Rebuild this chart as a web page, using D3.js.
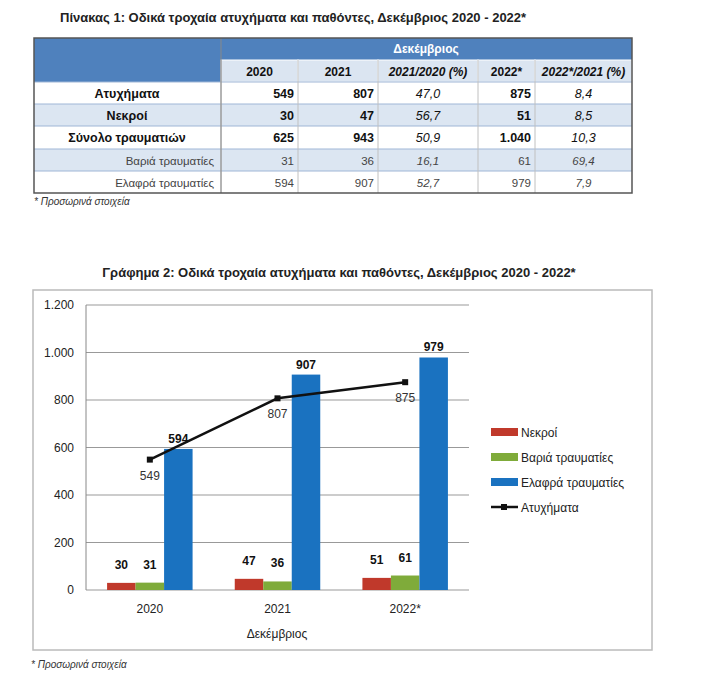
<!DOCTYPE html>
<html><head><meta charset="utf-8">
<script src="https://cdn.jsdelivr.net/npm/d3@7"></script>
<style>body{margin:0;background:#fff}svg{font-family:"Liberation Sans Narrow","Arial Narrow","Liberation Sans",sans-serif}</style>
</head><body><svg id="c" width="701" height="687"></svg>
<script>
const years = ["2020","2021","2022*"];
const nekroi = [30,47,51];
const varia = [31,36,61];
const elafra = [594,907,979];
const atyx = [549,807,875];
const yTicks = [0,200,400,600,800,1000,1200];
const tableHead = ["2020","2021","2021/2020 (%)","2022*","2022*/2021 (%)"];
const tableRows = [
 ["Ατυχήματα","549","807","47,0","875","8,4"],
 ["Νεκροί","30","47","56,7","51","8,5"],
 ["Σύνολο τραυματιών","625","943","50,9","1.040","10,3"],
 ["Βαριά τραυματίες","31","36","16,1","61","69,4"],
 ["Ελαφρά τραυματίες","594","907","52,7","979","7,9"]
];
const svg = d3.select("#c");
const fmt = v => v>=1000 ? d3.format(",")(v).replace(",",".") : String(v);

// Table
svg.append("text").attr("x",60).attr("y",22).attr("font-size",13).attr("font-weight","bold").attr("fill","#222")
 .text("Πίνακας 1: Οδικά τροχαία ατυχήματα και παθόντες, Δεκέμβριος 2020 - 2022*");
const colX=[34,221,298,378,478,535,632];
const rowY=[38,60,82,104,126,149,171,193];
svg.append("rect").attr("x",34).attr("y",38).attr("width",598).attr("height",44).attr("fill","#4f81bd");
svg.append("text").attr("x",426).attr("y",53).attr("text-anchor","middle").attr("fill","#fff").attr("font-size",12).attr("font-weight","bold").text("Δεκέμβριος");
tableHead.forEach((h,i)=>{
 svg.append("rect").attr("x",colX[i+1]).attr("y",60).attr("width",colX[i+2]-colX[i+1]).attr("height",22).attr("fill","#dbe5f1").attr("stroke","#fff");
 svg.append("text").attr("x",(colX[i+1]+colX[i+2])/2).attr("y",76).attr("text-anchor","middle").attr("font-size",12).attr("font-weight","bold")
  .attr("font-style",h.includes("%")?"italic":"normal").attr("fill","#111").text(h);
});
tableRows.forEach((r,j)=>{
 const y0=rowY[j+2],y1=rowY[j+3];
 svg.append("rect").attr("x",34).attr("y",y0).attr("width",598).attr("height",y1-y0).attr("fill",j%2?"#dce6f2":"#fff");
 svg.append("line").attr("x1",34).attr("x2",632).attr("y1",y0).attr("y2",y0).attr("stroke","#9fb6d6");
 const bold=j<3;
 r.forEach((c,i)=>{
  const t=svg.append("text").attr("y",(y0+y1)/2+4.5).attr("font-size",bold?12.5:11.5).attr("fill",bold?"#111":"#444");
  if(i===0){ if(bold) t.attr("x",127).attr("text-anchor","middle").attr("font-weight","bold"); else t.attr("x",214).attr("text-anchor","end"); }
  else if(i===3||i===5){ t.attr("x",(colX[i]+colX[i+1])/2).attr("text-anchor","middle").attr("font-style","italic"); }
  else { t.attr("x",colX[i+1]-4).attr("text-anchor","end").attr("font-weight",bold?"bold":"normal"); }
  t.text(c);
 });
});
colX.slice(1,-1).forEach(x=>svg.append("line").attr("x1",x).attr("x2",x).attr("y1",60).attr("y2",193).attr("stroke","#c0c0c0"));
svg.append("line").attr("x1",221).attr("x2",221).attr("y1",38).attr("y2",193).attr("stroke","#888");
svg.append("rect").attr("x",34).attr("y",38).attr("width",598).attr("height",155).attr("fill","none").attr("stroke","#555").attr("stroke-width",1.5);
svg.append("text").attr("x",34).attr("y",205).attr("font-size",10).attr("font-style","italic").attr("fill","#333").text("* Προσωρινά στοιχεία");

// Chart
svg.append("text").attr("x",339).attr("y",277).attr("text-anchor","middle").attr("font-size",13).attr("font-weight","bold").attr("fill","#222")
 .text("Γράφημα 2: Οδικά τροχαία ατυχήματα και παθόντες, Δεκέμβριος 2020 - 2022*");
svg.append("rect").attr("x",33).attr("y",290).attr("width",619).attr("height",360).attr("fill","#fff").attr("stroke","#bbb").attr("stroke-width",1.5);
const L=86,R=469;
const x = d3.scaleBand().domain(years).range([L,R]);
const y = d3.scaleLinear().domain([0,1200]).range([590,305]);
const g = svg.append("g");
g.selectAll(".gl").data(yTicks).join("line").attr("x1",L).attr("x2",R).attr("y1",d=>y(d)).attr("y2",d=>y(d)).attr("stroke","#999");
g.append("line").attr("x1",L).attr("x2",L).attr("y1",305).attr("y2",590).attr("stroke","#888");
g.selectAll(".yt").data(yTicks).join("text").attr("x",74).attr("y",d=>y(d)+4).attr("text-anchor","end").attr("font-size",12).attr("fill","#222").text(fmt);
g.selectAll(".xt").data(years).join("text").attr("x",d=>x(d)+x.bandwidth()/2).attr("y",613).attr("text-anchor","middle").attr("font-size",12).attr("fill","#222").text(d=>d);
svg.append("text").attr("x",277).attr("y",638).attr("text-anchor","middle").attr("font-size",12).attr("fill","#222").text("Δεκέμβριος");
const bw=28.5;
const series=[{name:"Νεκροί",v:nekroi,c:"#c0392b"},{name:"Βαριά τραυματίες",v:varia,c:"#7fab3a"},{name:"Ελαφρά τραυματίες",v:elafra,c:"#1a72c0"}];
series.forEach((s,k)=>{
 years.forEach((yr,i)=>{
  const cx=x(yr)+x.bandwidth()/2+(k-1)*bw;
  g.append("rect").attr("x",cx-bw/2).attr("y",y(s.v[i])).attr("width",bw).attr("height",590-y(s.v[i])).attr("fill",s.c);
  g.append("text").attr("x",cx).attr("y",y(s.v[i])-(k==2?6:14)).attr("text-anchor","middle").attr("font-size",12).attr("font-weight","bold").attr("fill","#111").text(s.v[i]);
 });
});
const line=d3.line().x((d,i)=>x(years[i])+x.bandwidth()/2).y(d=>y(d));
g.append("path").attr("d",line(atyx)).attr("fill","none").attr("stroke","#111").attr("stroke-width",2.5);
atyx.forEach((v,i)=>{
 const cx=x(years[i])+x.bandwidth()/2;
 g.append("rect").attr("x",cx-3).attr("y",y(v)-3).attr("width",6).attr("height",6).attr("fill","#111");
 g.append("text").attr("x",cx).attr("y",y(v)+20).attr("text-anchor","middle").attr("font-size",12).attr("fill","#333").text(v);
});
// legend
const leg=[...series.map(s=>({n:s.name,c:s.c,t:"b"})),{n:"Ατυχήματα",c:"#111",t:"l"}];
leg.forEach((l,i)=>{
 const ly=432+i*25;
 if(l.t==="b") svg.append("rect").attr("x",491).attr("y",ly-4).attr("width",27).attr("height",8).attr("fill",l.c);
 else { svg.append("line").attr("x1",491).attr("x2",518).attr("y1",ly).attr("y2",ly).attr("stroke","#111").attr("stroke-width",2.5);
  svg.append("rect").attr("x",501).attr("y",ly-3).attr("width",6).attr("height",6).attr("fill","#111"); }
 svg.append("text").attr("x",521).attr("y",ly+5).attr("font-size",12).attr("fill","#222").text(l.n);
});
svg.append("text").attr("x",31).attr("y",668).attr("font-size",10).attr("font-style","italic").attr("fill","#333").text("* Προσωρινά στοιχεία");
</script></body></html>
